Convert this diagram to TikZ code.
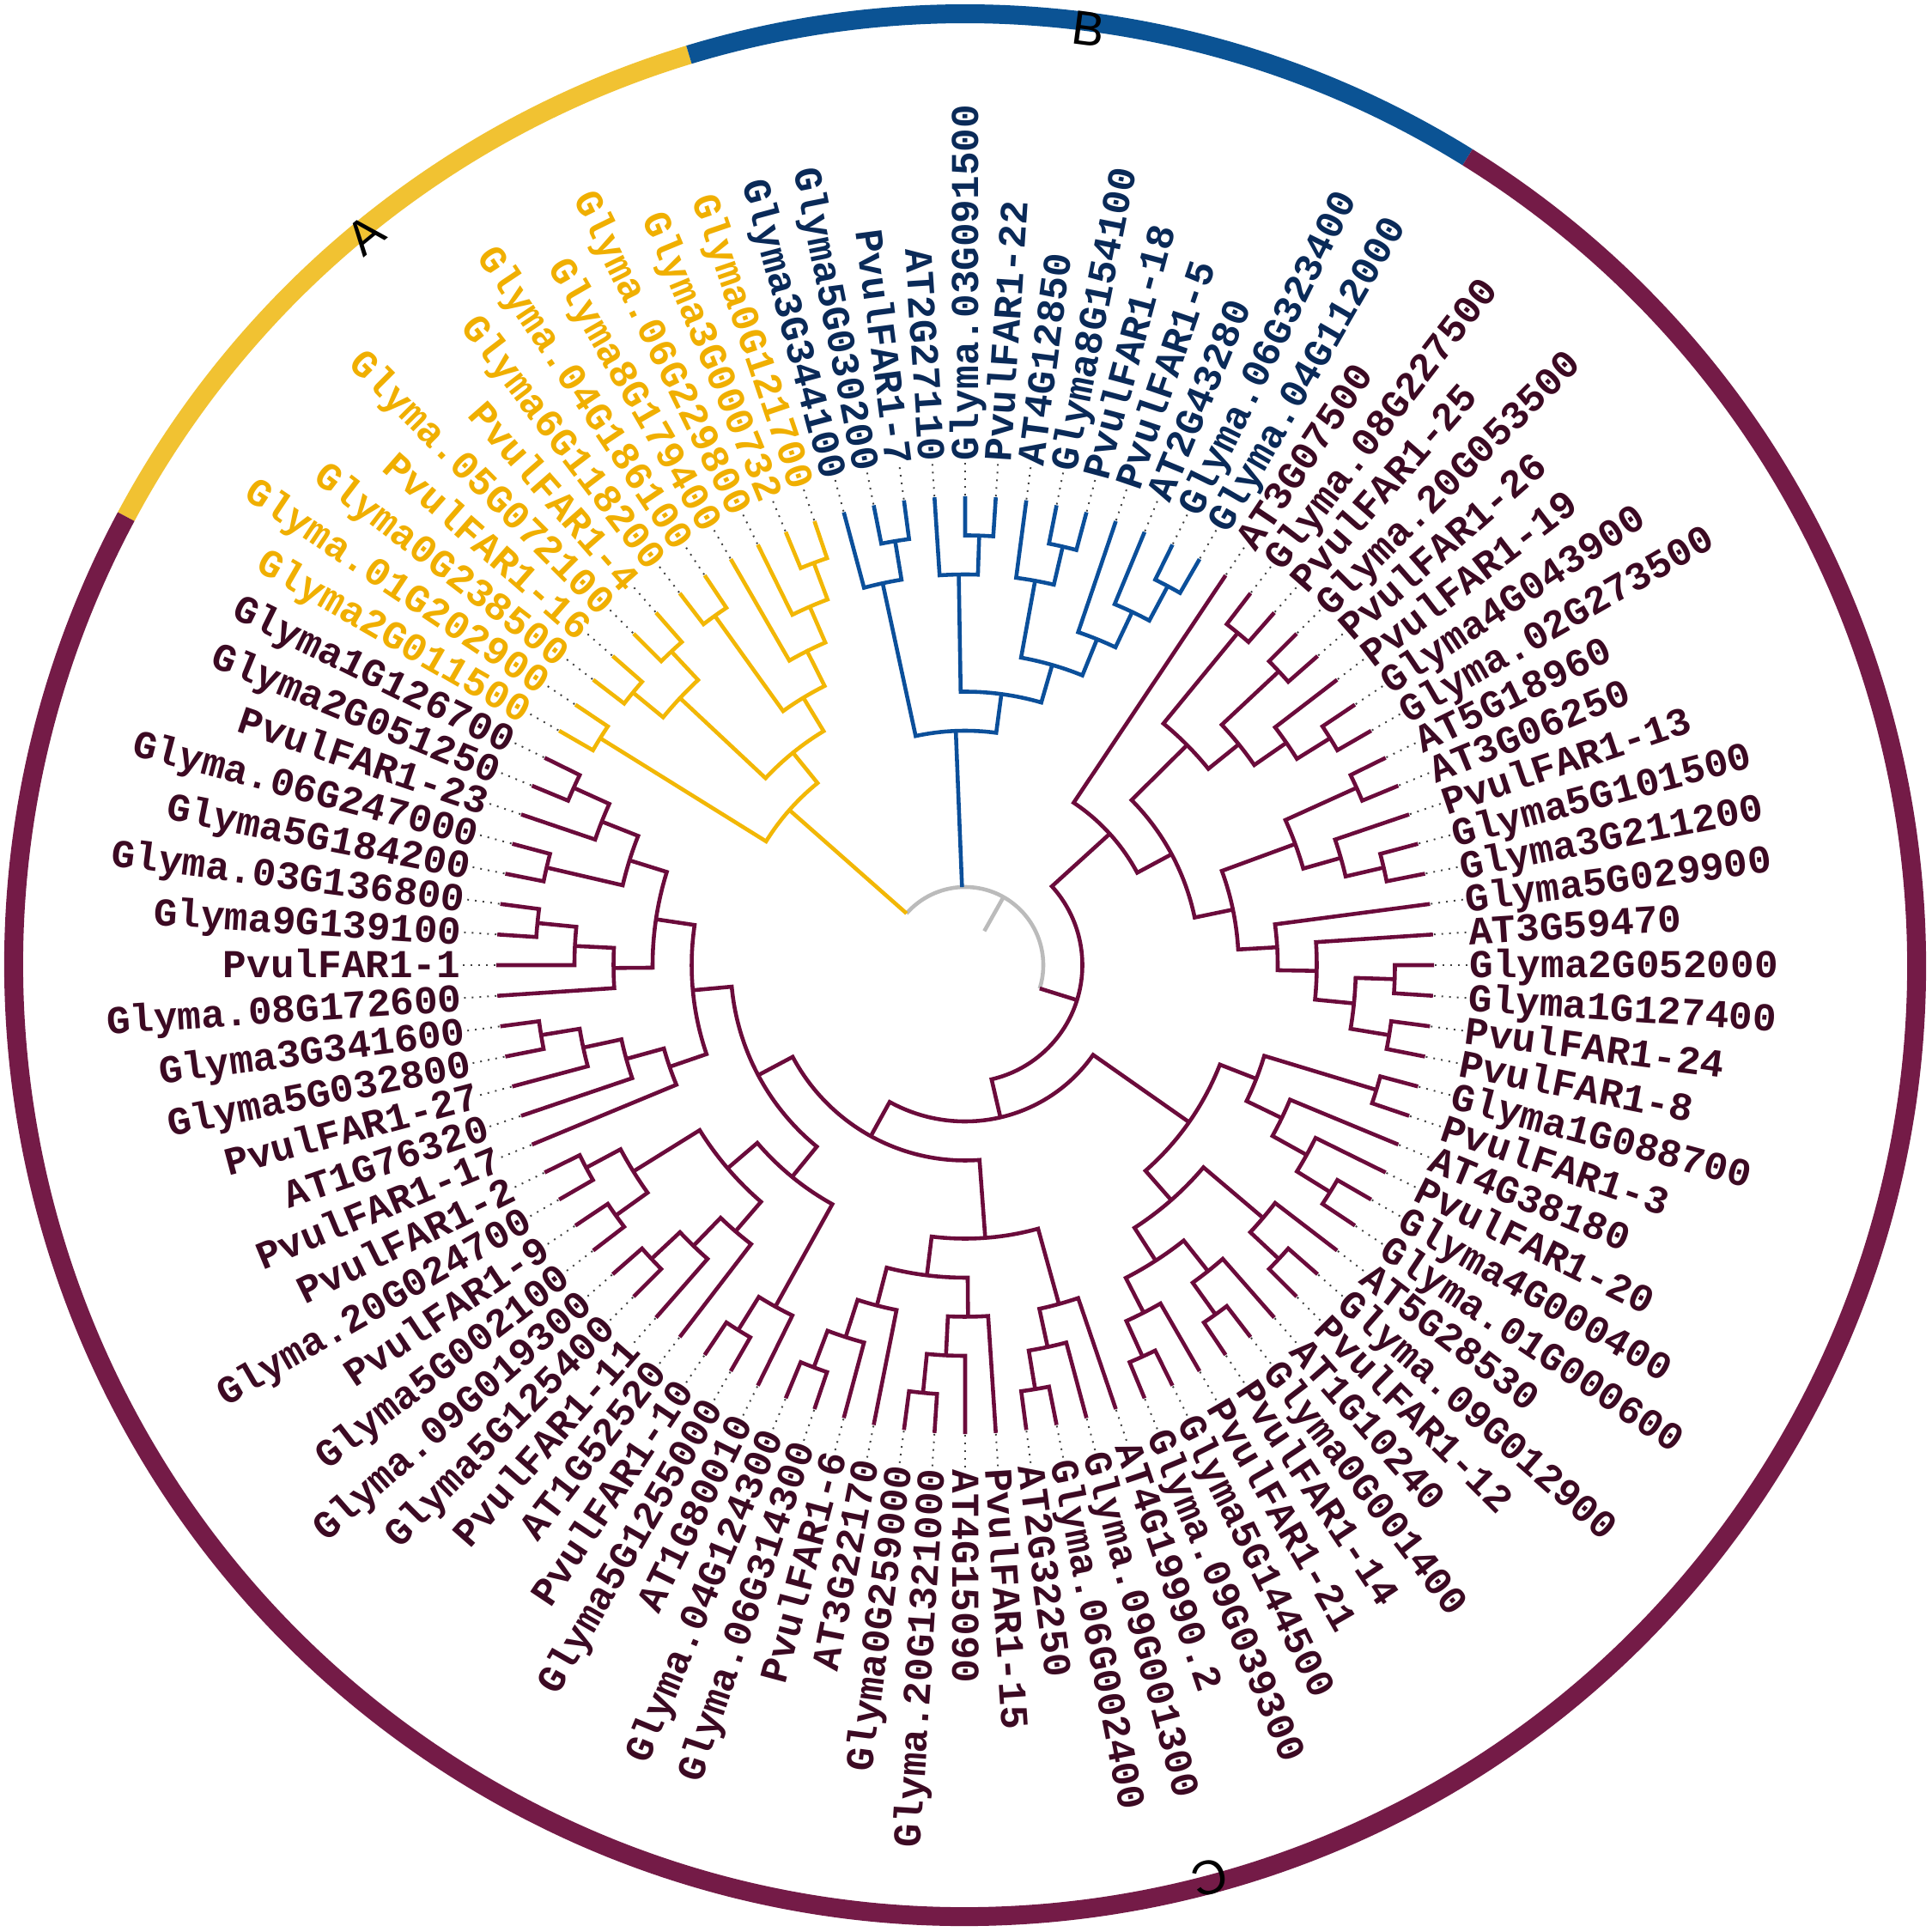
\documentclass[tikz,border=0pt]{standalone}
\usepackage{fontspec}
\newfontfamily\labfam{Liberation Mono}
\newfontfamily\letfam{Liberation Sans}
\definecolor{ringA}{HTML}{F1C232}
\definecolor{ringB}{HTML}{0B5394}
\definecolor{ringC}{HTML}{741B47}
\definecolor{colA}{HTML}{F2B705}
\definecolor{colB}{HTML}{0B4F9A}
\definecolor{colC}{HTML}{6B0B3B}
\definecolor{txtA}{HTML}{F0AF00}
\definecolor{txtB}{HTML}{0A2A58}
\definecolor{txtC}{HTML}{3C0A23}
\definecolor{rootgray}{HTML}{BBBBBB}
\newcommand\labf{\labfam\bfseries\fontsize{13.1}{14}\selectfont}
\tikzset{
  brA/.style={draw=colA, line width=1.3pt},
  brB/.style={draw=colB, line width=1.3pt},
  brC/.style={draw=colC, line width=1.3pt},
  brR/.style={draw=rootgray, line width=1.3pt},
  lead/.style={draw=black!75, dotted, line width=0.55pt},
  labbase/.style={font=\labf, inner sep=0pt, text height=0.3cm, text depth=0pt},
  labA/.style={labbase, text=txtA},
  labB/.style={labbase, text=txtB},
  labC/.style={labbase, text=txtC},
  ringseg/.style={line width=0.22cm},
  grplet/.style={font=\letfam\fontsize{16}{16}\selectfont, text=black, inner sep=0pt}
}
% tree helpers
\newcommand\tleaf[3]{%
  \ifnum#1>55 \pgfmathsetmacro\tlA{360-3.75*#1}\else\pgfmathsetmacro\tlA{-3.75*#1}\fi
  \expandafter\xdef\csname tang@#1\endcsname{\tlA}%
  \expandafter\xdef\csname trad@#1\endcsname{5.46}%
  \expandafter\xdef\csname thgt@#1\endcsname{0}%
  \draw[lead] (\tlA:5.47) -- (\tlA:5.86);
  \pgfmathsetmacro\tlF{((\tlA>90.5)||(\tlA<-90.5)) ? 1 : 0}%
  \ifdim\tlF pt>0.5pt
    \pgfmathsetmacro\tlR{\tlA+180}%
    \node[lab#3, anchor=east, rotate=\tlR] (L#1) at (\tlA:5.87) {#2};
  \else
    \node[lab#3, anchor=west, rotate=\tlA] (L#1) at (\tlA:5.87) {#2};
  \fi
}
\newcommand\tnode[4]{%
  \edef\tnA{\csname tang@#2\endcsname}%
  \edef\tnB{\csname tang@#3\endcsname}%
  \edef\tnRa{\csname trad@#2\endcsname}%
  \edef\tnRb{\csname trad@#3\endcsname}%
  \pgfmathtruncatemacro\tnH{max(\csname thgt@#2\endcsname,\csname thgt@#3\endcsname)+1}%
  \pgfmathsetmacro\tnR{5.46-0.455*\tnH}%
  \pgfmathsetmacro\tnM{(\tnA+\tnB)/2}%
  \expandafter\xdef\csname tang@#1\endcsname{\tnM}%
  \expandafter\xdef\csname trad@#1\endcsname{\tnR}%
  \expandafter\xdef\csname thgt@#1\endcsname{\tnH}%
  \draw[#4] (\tnA:\tnRa) -- (\tnA:\tnR) arc[start angle=\tnA, end angle=\tnB, radius=\tnR] -- (\tnB:\tnRb);
}
\begin{document}
\begin{tikzpicture}
\useasboundingbox (-11.24,-11.26) rectangle (11.26,11.24);
\fill[white] (-11.24,-11.26) rectangle (11.26,11.24);
% ring
\draw[ringseg, draw=ringA] (151.875:11.08) arc[start angle=151.875, end angle=106.875, radius=11.08];
\draw[ringseg, draw=ringB] (106.875:11.08) arc[start angle=106.875, end angle=58.125, radius=11.08];
\draw[ringseg, draw=ringC] (58.125:11.08) arc[start angle=58.125, end angle=-208.125, radius=11.08];
\node[grplet, rotate=39.375] (gA) at (129.375:11.0) {A};
\node[grplet, rotate=-7.5] (gB) at (82.5:11.0) {B};
\node[grplet, rotate=-165] (gC) at (-75:11.0) {C};
% leaves
\tleaf{0}{Glyma2G052000}{C}
\tleaf{1}{Glyma1G127400}{C}
\tleaf{2}{PvulFAR1-24}{C}
\tleaf{3}{PvulFAR1-8}{C}
\tleaf{4}{Glyma1G088700}{C}
\tleaf{5}{PvulFAR1-3}{C}
\tleaf{6}{AT4G38180}{C}
\tleaf{7}{PvulFAR1-20}{C}
\tleaf{8}{Glyma4G000400}{C}
\tleaf{9}{Glyma.01G000600}{C}
\tleaf{10}{AT5G28530}{C}
\tleaf{11}{Glyma.09G012900}{C}
\tleaf{12}{PvulFAR1-12}{C}
\tleaf{13}{AT1G10240}{C}
\tleaf{14}{Glyma0G001400}{C}
\tleaf{15}{PvulFAR1-14}{C}
\tleaf{16}{PvulFAR1-21}{C}
\tleaf{17}{Glyma5G144500}{C}
\tleaf{18}{Glyma.09G039300}{C}
\tleaf{19}{AT4G19990.2}{C}
\tleaf{20}{Glyma.09G001300}{C}
\tleaf{21}{Glyma.06G002400}{C}
\tleaf{22}{AT2G32250}{C}
\tleaf{23}{PvulFAR1-15}{C}
\tleaf{24}{AT4G15090}{C}
\tleaf{25}{Glyma.20G1321000}{C}
\tleaf{26}{Glyma0G259000}{C}
\tleaf{27}{AT3G22170}{C}
\tleaf{28}{PvulFAR1-6}{C}
\tleaf{29}{Glyma.06G314300}{C}
\tleaf{30}{Glyma.04G124300}{C}
\tleaf{31}{AT1G80010}{C}
\tleaf{32}{Glyma5G1255000}{C}
\tleaf{33}{PvulFAR1-10}{C}
\tleaf{34}{AT1G52520}{C}
\tleaf{35}{PvulFAR1-11}{C}
\tleaf{36}{Glyma5G125400}{C}
\tleaf{37}{Glyma.09G019300}{C}
\tleaf{38}{Glyma5G002100}{C}
\tleaf{39}{PvulFAR1-9}{C}
\tleaf{40}{Glyma.20G024700}{C}
\tleaf{41}{PvulFAR1-2}{C}
\tleaf{42}{PvulFAR1-17}{C}
\tleaf{43}{AT1G76320}{C}
\tleaf{44}{PvulFAR1-27}{C}
\tleaf{45}{Glyma5G032800}{C}
\tleaf{46}{Glyma3G341600}{C}
\tleaf{47}{Glyma.08G172600}{C}
\tleaf{48}{PvulFAR1-1}{C}
\tleaf{49}{Glyma9G139100}{C}
\tleaf{50}{Glyma.03G136800}{C}
\tleaf{51}{Glyma5G184200}{C}
\tleaf{52}{Glyma.06G247000}{C}
\tleaf{53}{PvulFAR1-23}{C}
\tleaf{54}{Glyma2G051250}{C}
\tleaf{55}{Glyma1G126700}{C}
\tleaf{56}{Glyma2G011500}{A}
\tleaf{57}{Glyma.01G202900}{A}
\tleaf{58}{Glyma0G238500}{A}
\tleaf{59}{PvulFAR1-16}{A}
\tleaf{60}{Glyma.05G072100}{A}
\tleaf{61}{PvulFAR1-4}{A}
\tleaf{62}{Glyma6G118200}{A}
\tleaf{63}{Glyma.04G186100}{A}
\tleaf{64}{Glyma8G179400}{A}
\tleaf{65}{Glyma.06G229800}{A}
\tleaf{66}{Glyma3G000732}{A}
\tleaf{67}{Glyma0G121700}{A}
\tleaf{68}{Glyma3G344100}{B}
\tleaf{69}{Glyma5G030200}{B}
\tleaf{70}{PvulFAR1-7}{B}
\tleaf{71}{AT2G27110}{B}
\tleaf{72}{Glyma.03G091500}{B}
\tleaf{73}{PvulFAR1-22}{B}
\tleaf{74}{AT4G12850}{B}
\tleaf{75}{Glyma8G154100}{B}
\tleaf{76}{PvulFAR1-18}{B}
\tleaf{77}{PvulFAR1-5}{B}
\tleaf{78}{AT2G43280}{B}
\tleaf{79}{Glyma.06G323400}{B}
\tleaf{80}{Glyma.04G112000}{B}
\tleaf{81}{AT3G07500}{C}
\tleaf{82}{Glyma.08G227500}{C}
\tleaf{83}{PvulFAR1-25}{C}
\tleaf{84}{Glyma.20G053500}{C}
\tleaf{85}{PvulFAR1-26}{C}
\tleaf{86}{PvulFAR1-19}{C}
\tleaf{87}{Glyma4G043900}{C}
\tleaf{88}{Glyma.02G273500}{C}
\tleaf{89}{AT5G18960}{C}
\tleaf{90}{AT3G06250}{C}
\tleaf{91}{PvulFAR1-13}{C}
\tleaf{92}{Glyma5G101500}{C}
\tleaf{93}{Glyma3G211200}{C}
\tleaf{94}{Glyma5G029900}{C}
\tleaf{95}{AT3G59470}{C}
% clade A
\tnode{a1}{56}{57}{brA}
\tnode{a2}{58}{59}{brA}
\tnode{a3}{60}{61}{brA}
\tnode{ac}{a2}{a3}{brA}
\tnode{a4}{62}{63}{brA}
\tnode{ax4}{66}{67}{brA}
\tnode{ax3}{65}{ax4}{brA}
\tnode{ax2}{64}{ax3}{brA}
\tnode{ax1}{a4}{ax2}{brA}
\tnode{ab}{ac}{ax1}{brA}
\tnode{A0}{a1}{ab}{brA}
% clade B
\tnode{b69}{69}{70}{brB}
\tnode{b1}{68}{b69}{brB}
\tnode{b72}{72}{73}{brB}
\tnode{b3}{71}{b72}{brB}
\tnode{b75}{75}{76}{brB}
\tnode{b5}{74}{b75}{brB}
\tnode{b79}{79}{80}{brB}
\tnode{b7}{78}{b79}{brB}
\tnode{b6}{77}{b7}{brB}
\tnode{b4}{b5}{b6}{brB}
\tnode{b2}{b3}{b4}{brB}
\tnode{B0}{b1}{b2}{brB}
% clade C, upper
\tnode{c01}{0}{1}{brC}
\tnode{c23}{2}{3}{brC}
\tnode{cz}{c01}{c23}{brC}
\tnode{cu10}{95}{cz}{brC}
\tnode{cu9}{94}{cu10}{brC}
\tnode{c92}{92}{93}{brC}
\tnode{cu8}{91}{c92}{brC}
\tnode{c89}{89}{90}{brC}
\tnode{cu7}{c89}{cu8}{brC}
\tnode{cu6}{cu7}{cu9}{brC}
\tnode{c87}{87}{88}{brC}
\tnode{cu5}{86}{c87}{brC}
\tnode{c84}{84}{85}{brC}
\tnode{cu4}{c84}{cu5}{brC}
\tnode{c82}{82}{83}{brC}
\tnode{cu3}{c82}{cu4}{brC}
\tnode{cu2}{cu3}{cu6}{brC}
\tnode{cu}{81}{cu2}{brC}
% clade C, lower right
\tnode{c45}{4}{5}{brC}
\tnode{c89b}{8}{9}{brC}
\tnode{c7}{7}{c89b}{brC}
\tnode{cl1b}{6}{c7}{brC}
\tnode{cl1a}{c45}{cl1b}{brC}
\tnode{c1112}{11}{12}{brC}
\tnode{y1}{10}{c1112}{brC}
\tnode{c1415}{14}{15}{brC}
\tnode{c13}{13}{c1415}{brC}
\tnode{c1718}{17}{18}{brC}
\tnode{c16}{16}{c1718}{brC}
\tnode{y2}{c13}{c16}{brC}
\tnode{y}{y1}{y2}{brC}
\tnode{cl1}{cl1a}{y}{brC}
% clade C, bottom
\tnode{c2122}{21}{22}{brC}
\tnode{z2}{20}{c2122}{brC}
\tnode{z1}{19}{z2}{brC}
\tnode{c2526}{25}{26}{brC}
\tnode{z4a}{24}{c2526}{brC}
\tnode{z4}{23}{z4a}{brC}
\tnode{c2930}{29}{30}{brC}
\tnode{z5a}{28}{c2930}{brC}
\tnode{z5}{27}{z5a}{brC}
\tnode{z3}{z4}{z5}{brC}
\tnode{cl2a}{z1}{z3}{brC}
% clade C, lower left
\tnode{c3233}{32}{33}{brC}
\tnode{m5}{31}{c3233}{brC}
\tnode{c3637}{36}{37}{brC}
\tnode{m3}{35}{c3637}{brC}
\tnode{m4}{34}{m3}{brC}
\tnode{c3839}{38}{39}{brC}
\tnode{c4041}{40}{41}{brC}
\tnode{m1}{c3839}{c4041}{brC}
\tnode{m2}{m4}{m1}{brC}
\tnode{cl2b2}{m5}{m2}{brC}
% clade C, left
\tnode{c4546}{45}{46}{brC}
\tnode{l7}{44}{c4546}{brC}
\tnode{l8}{43}{l7}{brC}
\tnode{l9}{42}{l8}{brC}
\tnode{c4950}{49}{50}{brC}
\tnode{l4}{48}{c4950}{brC}
\tnode{l5}{47}{l4}{brC}
\tnode{c5152}{51}{52}{brC}
\tnode{c5455}{54}{55}{brC}
\tnode{l1}{53}{c5455}{brC}
\tnode{l2}{c5152}{l1}{brC}
\tnode{l3}{l5}{l2}{brC}
\tnode{cl2b1}{l9}{l3}{brC}
\tnode{cl2b}{cl2b2}{cl2b1}{brC}
\tnode{cl2}{cl2a}{cl2b}{brC}
\tnode{clo}{cl1}{cl2}{brC}
\tnode{C0}{cu}{clo}{brC}
% root
\edef\rtA{\csname tang@A0\endcsname}
\edef\rtB{\csname tang@B0\endcsname}
\edef\rtC{\csname tang@C0\endcsname}
\pgfmathsetmacro\rtM{(\rtA+\rtC)/2}
\draw[brR] (\rtA:0.91) arc[start angle=\rtA, end angle=\rtC, radius=0.91];
\draw[brR] (\rtM:0.455) -- (\rtM:0.91);
\draw[brA] (\rtA:0.91) -- (\rtA:\csname trad@A0\endcsname);
\draw[brB] (\rtB:0.91) -- (\rtB:\csname trad@B0\endcsname);
\draw[brC] (\rtC:0.91) -- (\rtC:\csname trad@C0\endcsname);
\end{tikzpicture}
\end{document}
